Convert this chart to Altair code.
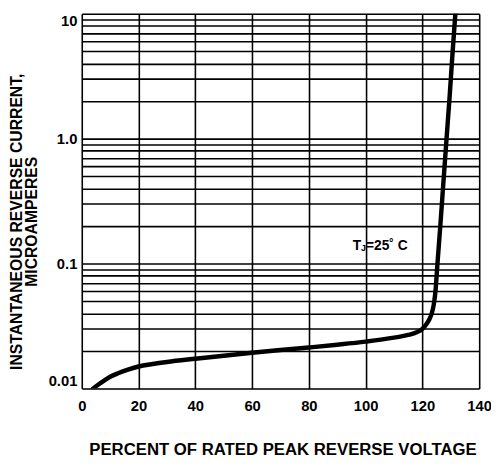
import altair as alt
import pandas as pd

# Curve
pct = [4, 6, 8, 10, 13, 16, 20, 25, 30, 40, 50, 60, 70, 80, 90, 100, 110, 115, 118, 120,
       121.5, 122.5, 123.3, 124.0, 124.6, 125.3, 126.3, 127.4, 128.5, 129.6, 130.6, 131.6]
cur = [0.0100, 0.0108, 0.0116, 0.0124, 0.0133, 0.0141, 0.0150, 0.0157, 0.0163, 0.0173,
       0.0183, 0.0193, 0.0203, 0.0213, 0.0224, 0.0237, 0.0255, 0.0268, 0.0282, 0.0300,
       0.0330, 0.0360, 0.0400, 0.0470, 0.0600, 0.100, 0.200, 0.450, 1.00, 2.20, 4.80, 10.0]

x_ticks = [0, 20, 40, 60, 80, 100, 120, 140]
decades = [0.01, 0.1, 1.0]
y_grid = [round(d * k, 4) for d in decades for k in range(1, 10)] + [10.0]

ann_x = [98.4]
ann_y = [0.138]

FONT = "Liberation Sans"

df = pd.DataFrame({"pct": pct, "cur": cur})
ann = pd.DataFrame({"x": ann_x, "y": ann_y})

xscale = alt.Scale(domain=[0, 140], nice=False, zero=False)
yscale = alt.Scale(type="log", domain=[0.01, 10], nice=False)

label_expr = ("datum.value == 0.01 ? '0.01' : datum.value == 0.1 ? '0.1' : "
              "datum.value == 1 ? '1.0' : datum.value == 10 ? '10' : ''")

W, H = 404, 381

line = alt.Chart(df).mark_line(color="black", strokeWidth=4.5, clip=True,
                               strokeCap="round", interpolate="monotone").encode(
    x=alt.X("pct:Q", scale=xscale,
            axis=alt.Axis(values=x_ticks, grid=True, gridColor="black", gridWidth=1.6,
                          gridOpacity=1, ticks=False, domain=False, labelPadding=10,
                          labelFont=FONT, labelFontSize=15, labelFontWeight="bold",
                          labelColor="black", labelFlush=False,
                          title="PERCENT OF RATED PEAK REVERSE VOLTAGE",
                          titleFont=FONT, titleFontSize=17, titleFontWeight="bold",
                          titleColor="black", titleX=204, titleY=62,
                          titleBaseline="middle", titleAlign="center")),
    y=alt.Y("cur:Q", scale=yscale,
            axis=alt.Axis(values=y_grid, grid=True, gridColor="black", gridWidth=1.6,
                          gridOpacity=1, ticks=False, domain=False, labelPadding=5,
                          labelExpr=label_expr, labelOverlap=False, labelFlush=True,
                          labelFont=FONT, labelFontSize=15, labelFontWeight="bold",
                          labelColor="black",
                          title=["INSTANTANEOUS REVERSE CURRENT,", "MICROAMPERES"],
                          titleFont=FONT, titleFontSize=16, titleFontWeight="bold",
                          titleColor="black", titleLineHeight=15,
                          titleX=-74, titleY=211, titleAngle=270,
                          titleBaseline="top", titleAlign="center")),
)

t1 = alt.Chart(ann).mark_text(text="T", align="right", baseline="middle", font=FONT,
                              fontSize=14, fontWeight="bold", color="black").encode(
    x=alt.X("x:Q", scale=xscale), y=alt.Y("y:Q", scale=yscale))
t2 = alt.Chart(ann).mark_text(text="J", align="left", baseline="middle", font=FONT,
                              fontSize=9, fontWeight="bold", color="black", dy=2).encode(
    x=alt.X("x:Q", scale=xscale), y=alt.Y("y:Q", scale=yscale))
t3 = alt.Chart(ann).mark_text(text="=25˚ C", align="left", baseline="middle", font=FONT,
                              fontSize=14, fontWeight="bold", color="black", dx=5).encode(
    x=alt.X("x:Q", scale=xscale), y=alt.Y("y:Q", scale=yscale))

chart = alt.layer(line, t1, t2, t3).properties(
    width=W, height=H,
    autosize=alt.AutoSizeParams(type="none"),
    padding={"left": 75, "top": 2, "right": 12, "bottom": 73},
).configure_view(stroke="black", strokeWidth=2).configure(background="white")

chart.save("out.html", embed_options={"renderer": "svg", "actions": False})
